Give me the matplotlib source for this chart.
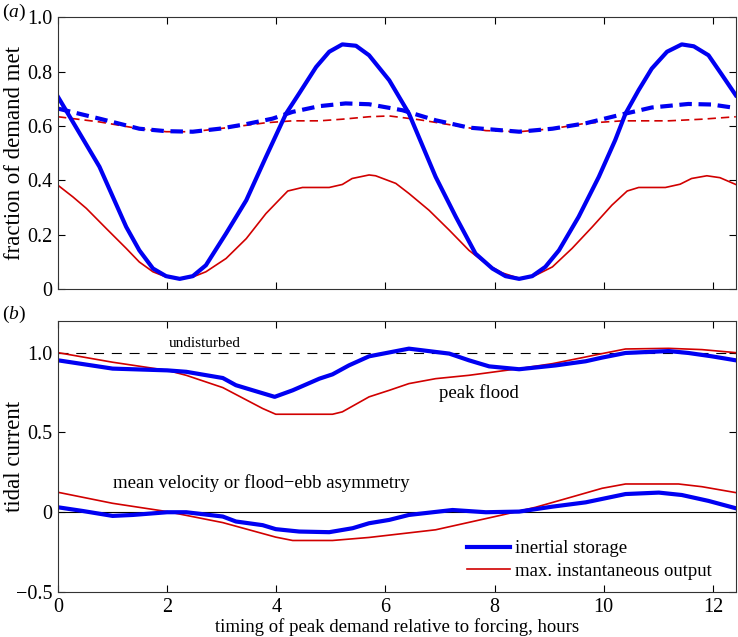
import numpy as np
import matplotlib
matplotlib.use("Agg")
import matplotlib.pyplot as plt

plt.rcParams['font.family'] = ['Liberation Serif', 'DejaVu Serif']
plt.rcParams['mathtext.fontset'] = 'custom'
plt.rcParams['mathtext.it'] = 'Liberation Serif:italic'
plt.rcParams['mathtext.rm'] = 'Liberation Serif'

# (a) fraction of demand met -- inertial storage, solid
a_blue_x = [0, 0.76, 1.25, 1.49, 1.74, 1.98, 2.23, 2.47, 2.71, 3.08, 3.45, 3.81, 4.18,
            4.42, 4.73, 4.97, 5.21, 5.46, 5.70, 6.07, 6.43, 6.92, 7.29, 7.65, 7.96,
            8.20, 8.45, 8.69, 8.93, 9.18, 9.54, 9.91, 10.21, 10.40, 10.64, 10.88,
            11.16, 11.43, 11.65, 11.92, 12.16, 12.42]
a_blue_y = [0.707, 0.45, 0.229, 0.143, 0.076, 0.048, 0.038, 0.048, 0.088, 0.205, 0.327,
            0.486, 0.646, 0.72, 0.817, 0.873, 0.90, 0.895, 0.86, 0.768, 0.646, 0.413,
            0.266, 0.131, 0.076, 0.048, 0.038, 0.048, 0.082, 0.143, 0.266, 0.413,
            0.548, 0.646, 0.732, 0.811, 0.873, 0.90, 0.893, 0.86, 0.79, 0.713]

# (a) inertial storage, dashed
a_blue_d_x = [0, 0.76, 1.49, 1.98, 2.47, 2.96, 3.45, 3.93, 4.30, 4.79, 5.27, 5.70, 6.31,
              6.92, 7.53, 8.45, 9.06, 9.67, 10.28, 10.88, 11.55, 11.98, 12.42]
a_blue_d_y = [0.664, 0.627, 0.59, 0.581, 0.579, 0.59, 0.607, 0.627, 0.652, 0.673, 0.683,
              0.68, 0.658, 0.621, 0.594, 0.579, 0.59, 0.61, 0.64, 0.668, 0.681, 0.679, 0.666]

# (a) max. instantaneous output, dashed
a_red_d_x = [0, 0.76, 1.49, 1.98, 2.47, 3.20, 3.81, 4.30, 4.79, 5.21, 5.70, 6.07, 6.62,
             7.23, 7.84, 8.45, 9.06, 9.67, 10.34, 11.19, 11.80, 12.42]
a_red_d_y = [0.634, 0.615, 0.59, 0.579, 0.579, 0.596, 0.612, 0.619, 0.619, 0.625, 0.634,
             0.637, 0.623, 0.603, 0.583, 0.579, 0.59, 0.61, 0.619, 0.619, 0.625, 0.634]

# (a) max. instantaneous output, solid
a_red_x = [0, 0.275, 0.52, 0.885, 1.25, 1.49, 1.74, 1.98, 2.23, 2.47, 2.71, 3.08, 3.45,
           3.81, 4.06, 4.21, 4.48, 4.97, 5.21, 5.39, 5.70, 5.82, 6.19, 6.43, 6.80,
           7.17, 7.53, 7.84, 8.14, 8.45, 8.75, 9.06, 9.42, 9.79, 10.15, 10.43, 10.64,
           11.13, 11.40, 11.61, 11.89, 12.13, 12.42]
a_red_y = [0.382, 0.339, 0.297, 0.223, 0.15, 0.10, 0.064, 0.045, 0.038, 0.045, 0.064,
           0.113, 0.186, 0.278, 0.33, 0.361, 0.374, 0.374, 0.385, 0.407, 0.42, 0.417,
           0.389, 0.352, 0.29, 0.217, 0.143, 0.094, 0.06, 0.04, 0.051, 0.082, 0.15,
           0.229, 0.309, 0.361, 0.374, 0.374, 0.386, 0.407, 0.417, 0.41, 0.385]

# (b) peak flood
b_flood_blue_x = [0, 1.0, 2.0, 2.35, 3.02, 3.26, 3.57, 3.97, 4.30, 4.79, 5.03, 5.33, 5.70,
                  6.43, 7.17, 7.53, 7.90, 8.45, 9.12, 9.67, 9.97, 10.40, 11.19, 11.55,
                  11.98, 12.42]
b_flood_blue_y = [0.952, 0.90, 0.889, 0.88, 0.841, 0.796, 0.764, 0.723, 0.764, 0.837,
                  0.864, 0.92, 0.977, 1.025, 0.994, 0.952, 0.914, 0.896, 0.92, 0.946,
                  0.969, 0.998, 1.01, 0.998, 0.977, 0.952]
b_flood_red_x = [0, 1.0, 2.0, 2.35, 3.02, 3.75, 3.99, 5.03, 5.21, 5.70, 6.07, 6.43, 6.92,
                 7.53, 8.45, 9.06, 9.67, 9.97, 10.40, 11.19, 11.80, 12.42]
b_flood_red_y = [1.0, 0.94, 0.889, 0.858, 0.781, 0.65, 0.614, 0.614, 0.629, 0.723, 0.764,
                 0.806, 0.837, 0.858, 0.90, 0.931, 0.973, 0.994, 1.023, 1.027, 1.019, 1.0]

# (b) mean velocity / flood-ebb asymmetry
b_mean_blue_x = [0, 0.45, 1.0, 1.37, 2.0, 2.35, 3.02, 3.26, 3.75, 3.99, 4.42, 4.97, 5.40,
                 5.70, 6.07, 6.43, 7.23, 7.84, 8.45, 9.06, 9.67, 10.40, 11.01, 11.43,
                 11.92, 12.42]
b_mean_blue_y = [0.031, 0.008, -0.023, -0.017, 0.0, 0.0, -0.027, -0.058, -0.081, -0.106,
                 -0.121, -0.125, -0.10, -0.069, -0.048, -0.017, 0.014, 0.0, 0.004, 0.035,
                 0.062, 0.114, 0.123, 0.108, 0.071, 0.025]
b_mean_red_x = [0, 1.0, 2.0, 3.02, 3.99, 4.30, 5.03, 5.70, 6.92, 8.14, 8.75, 9.48, 9.97,
                10.40, 11.37, 11.80, 12.42]
b_mean_red_y = [0.125, 0.056, 0.004, -0.065, -0.156, -0.177, -0.177, -0.158, -0.11, -0.017,
                0.031, 0.102, 0.15, 0.177, 0.177, 0.16, 0.123]

blue = (0.0, 0.0, 0.95)
red = (0.82, 0.0, 0.0)
lw_b = 3.0
lw_r = 1.2
fs = 13.5

fig = plt.figure(figsize=(7.38, 6.37), dpi=100)
ax1 = fig.add_axes([0.0786, 0.546, 0.9184, 0.427])
ax2 = fig.add_axes([0.0786, 0.0706, 0.9184, 0.4259])

ax1.plot(a_red_d_x, a_red_d_y, color=red, lw=lw_r, ls=(0, (5, 3)))
ax1.plot(a_blue_d_x, a_blue_d_y, color=blue, lw=lw_b, ls=(0, (3, 1.6)))
ax1.plot(a_red_x, a_red_y, color=red, lw=lw_r)
ax1.plot(a_blue_x, a_blue_y, color=blue, lw=lw_b)
ax1.set_xlim(0, 12.42)
ax1.set_ylim(0, 1.0)
ax1.set_xticks(np.arange(0, 13, 2))
ax1.set_xticklabels([])
ax1.set_yticks([0, 0.2, 0.4, 0.6, 0.8, 1.0])
ax1.set_yticklabels(['0', '0.2', '0.4', '0.6', '0.8', '1.0'])
ax1.set_ylabel('fraction of demand met', fontsize=16.5)
ax1.yaxis.set_label_coords(-0.049, 0.5)

ax2.axhline(1.0, color='k', lw=0.8, ls=(0, (9, 7)))
ax2.axhline(0.0, color='k', lw=0.8)
ax2.plot(b_flood_red_x, b_flood_red_y, color=red, lw=lw_r)
ax2.plot(b_flood_blue_x, b_flood_blue_y, color=blue, lw=lw_b)
ax2.plot(b_mean_red_x, b_mean_red_y, color=red, lw=lw_r)
ax2.plot(b_mean_blue_x, b_mean_blue_y, color=blue, lw=lw_b)
ax2.set_xlim(0, 12.42)
ax2.set_ylim(-0.5, 1.2)
ax2.set_xticks(np.arange(0, 13, 2))
ax2.set_yticks([-0.5, 0, 0.5, 1.0])
ax2.set_yticklabels(['\u22120.5', '0', '0.5', '1.0'])
ax2.set_ylabel('tidal current', fontsize=16.5)
ax2.yaxis.set_label_coords(-0.049, 0.5)
ax2.set_xlabel('timing of peak demand relative to forcing, hours', fontsize=fs, labelpad=1)

ax2.text(2.68, 1.056, 'undisturbed', fontsize=11, ha='center', va='center')
ax2.text(7.71, 0.744, 'peak flood', fontsize=fs, ha='center', va='center')
ax2.text(1.0, 0.185, 'mean velocity or flood\u2212ebb asymmetry', fontsize=fs,
         ha='left', va='center')

h1, = ax2.plot([], [], color=blue, lw=lw_b, label='inertial storage')
h2, = ax2.plot([], [], color=red, lw=lw_r, label='max. instantaneous output')
ax2.legend(handles=[h1, h2], loc='lower right', frameon=False, fontsize=fs,
           handlelength=2.3, handletextpad=0.3, labelspacing=0.3,
           bbox_to_anchor=(0.99, -0.018))

for ax in (ax1, ax2):
    ax.tick_params(direction='in', top=True, right=True, length=5, width=0.8,
                   labelsize=14.5, pad=4)
    for s in ax.spines.values():
        s.set_linewidth(0.8)
        s.set_color('0.2')

fig.text(0.003, 0.981, r'($\mathit{a}$)', fontsize=14, ha='left', va='center')
fig.text(0.003, 0.506, r'($\mathit{b}$)', fontsize=14, ha='left', va='center')

fig.savefig('out.png', dpi=100)
